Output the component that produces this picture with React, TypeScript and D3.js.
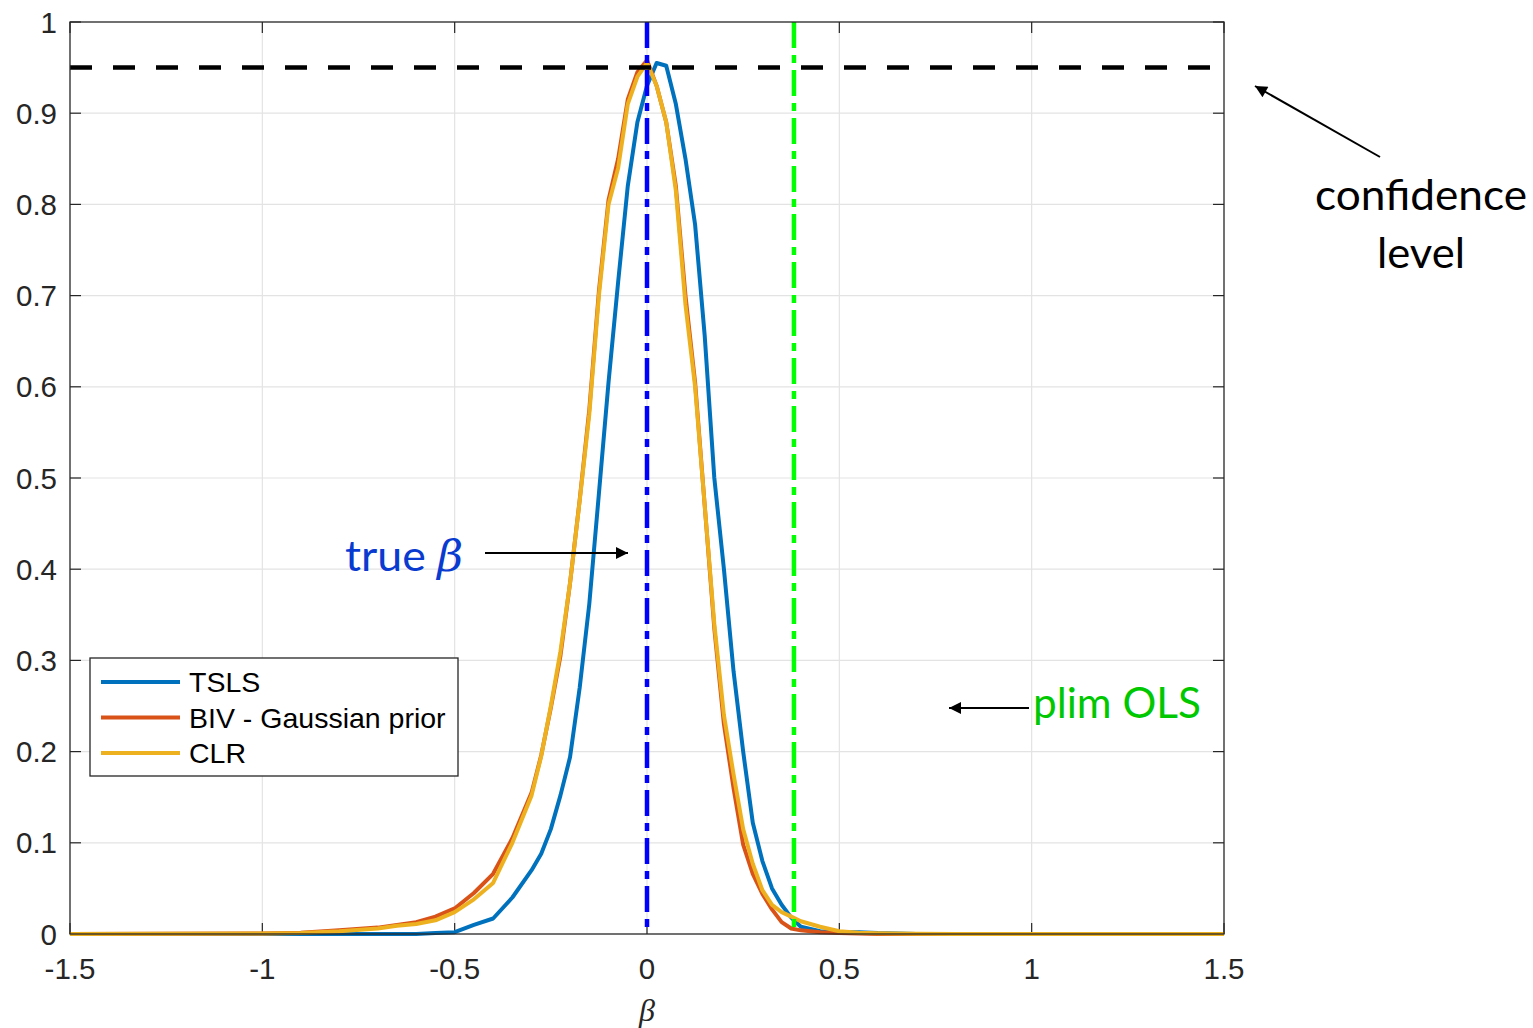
import React from "react";
import * as d3 from "d3";

const betaGrid = [-1.5, -1.0, -0.9, -0.8, -0.7, -0.65, -0.6, -0.55, -0.5, -0.45, -0.4, -0.35, -0.3, -0.275, -0.25, -0.225, -0.2, -0.175, -0.15, -0.125, -0.1, -0.075, -0.05, -0.025, 0, 0.025, 0.05, 0.075, 0.1, 0.125, 0.15, 0.175, 0.2, 0.225, 0.25, 0.275, 0.3, 0.325, 0.35, 0.375, 0.4, 0.45, 0.5, 0.55, 0.6, 0.7, 0.8, 1.0, 1.5];

const tsls = [0, 0, 0, 0, 0, 0, 0, 0.001, 0.002, 0.01, 0.017, 0.04, 0.07, 0.088, 0.115, 0.152, 0.194, 0.27, 0.362, 0.483, 0.605, 0.715, 0.82, 0.89, 0.93, 0.955, 0.952, 0.91, 0.85, 0.778, 0.656, 0.5, 0.4, 0.288, 0.2, 0.122, 0.08, 0.05, 0.032, 0.018, 0.008, 0.003, 0.002, 0.002, 0.001, 0, 0, 0, 0];

const biv = [0, 0.0005, 0.0015, 0.004, 0.007, 0.01, 0.013, 0.019, 0.028, 0.045, 0.066, 0.105, 0.155, 0.196, 0.248, 0.305, 0.385, 0.476, 0.575, 0.705, 0.805, 0.85, 0.915, 0.945, 0.958, 0.93, 0.89, 0.82, 0.7, 0.605, 0.47, 0.335, 0.23, 0.16, 0.098, 0.066, 0.044, 0.027, 0.013, 0.006, 0.004, 0.002, 0.001, 0.0005, 0, 0, 0, 0, 0];

const clr = [0, 0.0005, 0.001, 0.003, 0.006, 0.009, 0.011, 0.015, 0.024, 0.038, 0.056, 0.1, 0.152, 0.195, 0.25, 0.31, 0.385, 0.475, 0.57, 0.7, 0.8, 0.84, 0.91, 0.94, 0.955, 0.93, 0.89, 0.815, 0.69, 0.6, 0.47, 0.34, 0.24, 0.175, 0.115, 0.077, 0.048, 0.032, 0.024, 0.019, 0.014, 0.008, 0.003, 0.0015, 0.0008, 0.0003, 0, 0, 0];

const seriesNames = ["TSLS", "BIV - Gaussian prior", "CLR"];
const seriesColors = ["#0072BD", "#D95319", "#EDB120"];
const xTicks = [-1.5, -1, -0.5, 0, 0.5, 1, 1.5];
const yTicks = [0, 0.1, 0.2, 0.3, 0.4, 0.5, 0.6, 0.7, 0.8, 0.9, 1];
const confidenceLevel = 0.95;
const trueBeta = 0;
const plimOLS = 0.382;

export default function App() {
  const x = d3.scaleLinear().domain([-1.5, 1.5]).range([70, 1224]);
  const y = d3.scaleLinear().domain([0, 1]).range([934, 22]);
  const allSeries = [tsls, biv, clr];
  const line = d3
    .line<[number, number]>()
    .x((d) => x(d[0]))
    .y((d) => y(d[1]));
  const axisColor = "#262626";
  const gridColor = "#e3e3e3";
  const tickFont = "'Liberation Sans', Arial, sans-serif";
  const annFont = "Lato, 'Open Sans', sans-serif";
  const [x0, x1] = x.range();
  const [y0, y1] = y.range();
  const tickLen = 11;

  return (
    <svg
      width={1533}
      height={1028}
      style={{ position: "absolute", left: 0, top: 0, background: "#fff" }}
    >
      <defs>
        <marker id="arrow" viewBox="0 0 10 10" refX="10" refY="5" markerWidth="16" markerHeight="12" markerUnits="userSpaceOnUse" orient="auto">
          <path d="M0,0 L10,5 L0,10 z" fill="#000" />
        </marker>
      </defs>
      <rect x={x0} y={y1} width={x1 - x0} height={y0 - y1} fill="#fff" />
      {xTicks.slice(1, -1).map((t) => (
        <line key={"gx" + t} x1={x(t)} x2={x(t)} y1={y1} y2={y0} stroke={gridColor} strokeWidth={1.2} />
      ))}
      {yTicks.slice(1, -1).map((t) => (
        <line key={"gy" + t} x1={x0} x2={x1} y1={y(t)} y2={y(t)} stroke={gridColor} strokeWidth={1.2} />
      ))}
      {xTicks.map((t) => (
        <g key={"tx" + t}>
          <line x1={x(t)} x2={x(t)} y1={y0} y2={y0 - tickLen} stroke={axisColor} strokeWidth={1.2} />
          <line x1={x(t)} x2={x(t)} y1={y1} y2={y1 + tickLen} stroke={axisColor} strokeWidth={1.2} />
          <text x={x(t)} y={979} textAnchor="middle" fontFamily={tickFont} fontSize={29.5} fill={axisColor}>
            {String(t)}
          </text>
        </g>
      ))}
      {yTicks.map((t) => (
        <g key={"ty" + t}>
          <line x1={x0} x2={x0 + tickLen} y1={y(t)} y2={y(t)} stroke={axisColor} strokeWidth={1.2} />
          <line x1={x1} x2={x1 - tickLen} y1={y(t)} y2={y(t)} stroke={axisColor} strokeWidth={1.2} />
          <text x={57} y={y(t) + 10.5} textAnchor="end" fontFamily={tickFont} fontSize={29.5} fill={axisColor}>
            {String(t)}
          </text>
        </g>
      ))}
      {allSeries.map((s, i) => (
        <path
          key={"s" + i}
          d={line(betaGrid.map((b, j) => [b, s[j]] as [number, number])) || ""}
          fill="none"
          stroke={seriesColors[i]}
          strokeWidth={4}
          strokeLinejoin="round"
        />
      ))}
      <line x1={x0} x2={x1} y1={y(confidenceLevel)} y2={y(confidenceLevel)} stroke="#000" strokeWidth={4.5} strokeDasharray="22 21" />
      <line x1={x(trueBeta)} x2={x(trueBeta)} y1={y1} y2={y0} stroke="#0000FF" strokeWidth={4.5} strokeDasharray="26 7 8 7" />
      <line x1={x(plimOLS)} x2={x(plimOLS)} y1={y1} y2={y0} stroke="#00FF00" strokeWidth={4.5} strokeDasharray="26 7 8 7" />
      <rect x={x0} y={y1} width={x1 - x0} height={y0 - y1} fill="none" stroke={axisColor} strokeWidth={1.3} />
      <text x={x(0)} y={1021} textAnchor="middle" fontFamily="'Liberation Serif', 'Times New Roman', serif" fontStyle="italic" fontSize={32} fill={axisColor}>
        β
      </text>
      <rect x={90} y={658} width={368} height={118} fill="#fff" stroke={axisColor} strokeWidth={1.3} />
      {seriesNames.map((n, i) => (
        <g key={"lg" + i}>
          <line x1={101} x2={180} y1={682 + i * 35.5} y2={682 + i * 35.5} stroke={seriesColors[i]} strokeWidth={4} />
          <text x={189} y={682 + i * 35.5 + 10} fontFamily={tickFont} fontSize={28.5} fill="#000">
            {n}
          </text>
        </g>
      ))}
      <text x={345} y={571} fontFamily={annFont} fontSize={42} fill="#0A3BD0" textLength={118} lengthAdjust="spacingAndGlyphs">
        true <tspan fontFamily="'DejaVu Serif', serif" fontStyle="italic">β</tspan>
      </text>
      <line x1={485} x2={628} y1={553} y2={553} stroke="#000" strokeWidth={2} markerEnd="url(#arrow)" />
      <text x={1033} y={718} fontFamily={annFont} fontSize={42} fill="#00C800" textLength={168} lengthAdjust="spacingAndGlyphs">
        plim OLS
      </text>
      <line x1={1029} x2={949} y1={708} y2={708} stroke="#000" strokeWidth={2} markerEnd="url(#arrow)" />
      <text x={1421} y={210} textAnchor="middle" fontFamily={annFont} fontSize={42} fill="#000" textLength={212} lengthAdjust="spacingAndGlyphs">
        confidence
      </text>
      <text x={1421} y={268} textAnchor="middle" fontFamily={annFont} fontSize={42} fill="#000" textLength={88} lengthAdjust="spacingAndGlyphs">
        level
      </text>
      <line x1={1380} x2={1255} y1={157} y2={86} stroke="#000" strokeWidth={2} markerEnd="url(#arrow)" />
    </svg>
  );
}
